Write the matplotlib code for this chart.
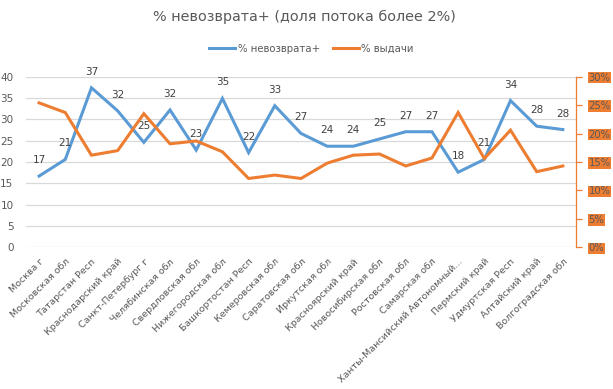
import matplotlib.pyplot as plt
from matplotlib.ticker import FuncFormatter
from matplotlib.lines import Line2D

regions = ['Москва г', 'Московская обл', 'Татарстан Респ', 'Краснодарский край',
           'Санкт-Петербург г', 'Челябинская обл', 'Свердловская обл',
           'Нижегородская обл', 'Башкортостан Респ', 'Кемеровская обл',
           'Саратовская обл', 'Иркутская обл', 'Красноярский край',
           'Новосибирская обл', 'Ростовская обл', 'Самарская обл',
           'Ханты-Мансийский Автономный...', 'Пермский край', 'Удмуртская Респ',
           'Алтайский край', 'Волгоградская обл']
# % невозврата+ (left axis)
default_rate = [16.7, 20.6, 37.4, 32.0, 24.6, 32.2, 22.8, 34.9, 22.2, 33.2, 26.7,
                23.7, 23.7, 25.4, 27.1, 27.1, 17.6, 20.6, 34.4, 28.4, 27.6]
# % выдачи (right axis, percent)
issue_share = [25.4, 23.7, 16.2, 17.0, 23.5, 18.2, 18.7, 16.8, 12.1, 12.7, 12.1,
               14.8, 16.2, 16.4, 14.3, 15.7, 23.7, 15.6, 20.6, 13.3, 14.3]

BLUE = '#5B9BD5'
ORANGE = '#ED7D31'
GREY = '#595959'

plt.rcParams['font.family'] = ['DejaVu Sans']

fig = plt.figure(figsize=(6.13, 3.89), dpi=100)
ax = fig.add_axes([0.0424, 0.3643, 0.8972, 0.4385])
ax2 = ax.twinx()

x = list(range(len(regions)))
ax.plot(x, default_rate, color=BLUE, lw=2.2, solid_joinstyle='miter')
ax2.plot(x, issue_share, color=ORANGE, lw=2.2, solid_joinstyle='miter')

for xi, v in zip(x, default_rate):
    ax.annotate(f'{v:.0f}', (xi, v), xytext=(0, 11.5), textcoords='offset points',
                ha='center', va='center', fontsize=7.5, color='#404040')

ax.set_xlim(-0.5, len(regions) - 0.5)
ax.set_ylim(0, 40)
ax.set_yticks(range(0, 41, 5))
ax.grid(axis='y', color='#D9D9D9', lw=0.9)
ax.set_axisbelow(True)
ax.tick_params(axis='y', length=0, pad=9, labelsize=7.5, labelcolor=GREY)
ax.set_xticks(x)
ax.set_xticklabels(regions, rotation=45, ha='right', rotation_mode='anchor',
                   fontsize=6.8, color=GREY)
ax.tick_params(axis='x', length=0, pad=7)
for s in ['top', 'left', 'right', 'bottom']:
    ax.spines[s].set_visible(False)

ax2.set_ylim(0, 30)
ax2.set_yticks(range(0, 31, 5))
ax2.yaxis.set_major_formatter(FuncFormatter(lambda v, p: f'{v:.0f}%'))
ax2.tick_params(axis='y', length=4, width=0.9, color=ORANGE, pad=5,
                labelsize=7.2, labelcolor=GREY)
for lab in ax2.get_yticklabels():
    lab.set_bbox(dict(facecolor=ORANGE, edgecolor='none', pad=0.5))
for s in ['top', 'left', 'bottom']:
    ax2.spines[s].set_visible(False)
ax2.spines['right'].set_color(ORANGE)
ax2.spines['right'].set_linewidth(0.9)

fig.suptitle('% невозврата+ (доля потока более 2%)', x=0.497, y=0.975,
             fontsize=10.4, color=GREY)

handles = [Line2D([], [], color=BLUE, lw=2.2), Line2D([], [], color=ORANGE, lw=2.2)]
fig.legend(handles, ['% невозврата+', '% выдачи'], loc='center', ncol=2,
           bbox_to_anchor=(0.508, 0.874), frameon=False, fontsize=7.3,
           handlelength=2.6, handletextpad=0.2, columnspacing=1.3,
           labelcolor=GREY)

fig.savefig('out.png', dpi=100)
